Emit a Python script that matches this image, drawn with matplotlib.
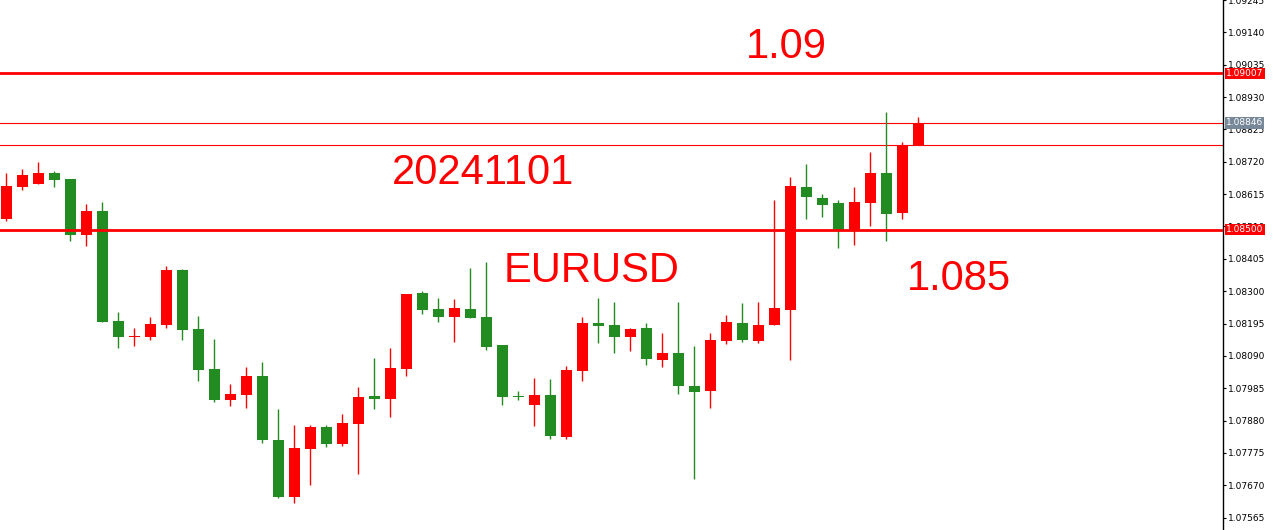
import numpy as np
import matplotlib
matplotlib.use("Agg")
import matplotlib.pyplot as plt
import matplotlib.transforms as mtransforms

# EURUSD candles (oldest -> newest)
opens = [1.08534, 1.08638, 1.08647, 1.08682, 1.08663, 1.08482, 1.08559, 1.08202,
         1.08153, 1.08152, 1.08190, 1.08368, 1.08176, 1.08047, 1.07947, 1.07964,
         1.08024, 1.07817, 1.07633, 1.07789, 1.07859, 1.07805, 1.07870, 1.07959,
         1.07951, 1.08048, 1.08293, 1.08241, 1.08216, 1.08241, 1.08215, 1.08125,
         1.07959, 1.07931, 1.07963, 1.07827, 1.08041, 1.08196, 1.08189, 1.08152,
         1.08180, 1.08077, 1.08099, 1.07992, 1.07977, 1.08139, 1.08196, 1.08139,
         1.08190, 1.08239, 1.08637, 1.08604, 1.08585, 1.08498, 1.08586, 1.08682,
         1.08553, 1.08774]
highs = [1.08682, 1.08695, 1.08718, 1.08689, 1.08663, 1.08582, 1.08591, 1.08232,
         1.08180, 1.08215, 1.08381, 1.08371, 1.08219, 1.08144, 1.07998, 1.08053,
         1.08070, 1.07917, 1.07865, 1.07865, 1.07865, 1.07901, 1.07989, 1.08083,
         1.08115, 1.08290, 1.08300, 1.08277, 1.08274, 1.08374, 1.08394, 1.08125,
         1.07976, 1.08018, 1.08014, 1.08057, 1.08215, 1.08277, 1.08264, 1.08180,
         1.08196, 1.08164, 1.08264, 1.08121, 1.08164, 1.08222, 1.08261, 1.08265,
         1.08595, 1.08669, 1.08714, 1.08617, 1.08595, 1.08637, 1.08753, 1.08880,
         1.08783, 1.08865]
lows = [1.08527, 1.08628, 1.08647, 1.08638, 1.08463, 1.08446, 1.08200, 1.08115,
        1.08122, 1.08142, 1.08181, 1.08142, 1.08009, 1.07941, 1.07928, 1.07921,
        1.07808, 1.07630, 1.07614, 1.07672, 1.07795, 1.07798, 1.07708, 1.07918,
        1.07892, 1.08025, 1.08226, 1.08200, 1.08135, 1.08213, 1.08109, 1.07931,
        1.07947, 1.07863, 1.07821, 1.07821, 1.08009, 1.08132, 1.08100, 1.08106,
        1.08061, 1.08054, 1.07967, 1.07689, 1.07921, 1.08129, 1.08135, 1.08132,
        1.08190, 1.08077, 1.08534, 1.08540, 1.08440, 1.08450, 1.08511, 1.08463,
        1.08534, 1.08774]
closes = [1.08640, 1.08676, 1.08682, 1.08660, 1.08482, 1.08559, 1.08200, 1.08152,
          1.08154, 1.08193, 1.08368, 1.08174, 1.08045, 1.07947, 1.07966, 1.08024,
          1.07818, 1.07633, 1.07791, 1.07859, 1.07805, 1.07872, 1.07956, 1.07951,
          1.08050, 1.08290, 1.08239, 1.08216, 1.08245, 1.08213, 1.08119, 1.07957,
          1.07957, 1.07963, 1.07831, 1.08044, 1.08196, 1.08187, 1.08152, 1.08176,
          1.08080, 1.08099, 1.07993, 1.07973, 1.08141, 1.08199, 1.08142, 1.08189,
          1.08245, 1.08640, 1.08605, 1.08579, 1.08495, 1.08591, 1.08682, 1.08550,
          1.08771, 1.08846]

# price axis on the right
tick_prices = [1.07565, 1.07670, 1.07775, 1.07880, 1.07985, 1.08090, 1.08195,
               1.08300, 1.08405, 1.08510, 1.08615, 1.08720, 1.08825, 1.08930,
               1.09035, 1.09140, 1.09245]

# horizontal levels
key_levels = [1.09007, 1.08500]
bid_price = 1.08846
prev_close = 1.08774

UP = '#FF0000'
DOWN = '#228B22'

fig = plt.figure(figsize=(12.73, 5.30), dpi=100)
ax = fig.add_axes([0, 0, 1223 / 1273, 1])

x = np.arange(len(opens))
o = np.array(opens)
h = np.array(highs)
l = np.array(lows)
c = np.array(closes)
colors = [UP if c[i] >= o[i] else DOWN for i in range(len(o))]

# wicks
ax.vlines(x, l, h, colors=colors, linewidth=1.0, zorder=2)
# bodies (keep dojis visible as a thin line)
body_h = np.maximum(np.abs(c - o), 0.00003)
ax.bar(x, body_h, bottom=np.minimum(o, c), width=0.69, color=colors,
       linewidth=0, zorder=3)

# levels
for lvl in key_levels:
    ax.axhline(lvl, color='#FF0000', linewidth=2.0, zorder=4)
ax.axhline(bid_price, color='#FF0000', linewidth=0.8, zorder=1)
ax.axhline(prev_close, color='#FF0000', linewidth=0.8, zorder=1)

ax.set_xlim(-0.394, 76.04)
ax.set_ylim(1.075251, 1.092427)

for s in ['left', 'top', 'bottom']:
    ax.spines[s].set_visible(False)
ax.spines['right'].set_color('black')
ax.spines['right'].set_linewidth(1.0)
ax.set_xticks([])
ax.yaxis.tick_right()
ax.set_yticks(tick_prices)
ax.set_yticklabels(['%.5f' % p for p in tick_prices])
ax.tick_params(axis='y', direction='out', length=2.5, width=0.8, pad=0.8,
               labelsize=6.5, colors='black')

# price tags on the axis
trans = mtransforms.blended_transform_factory(ax.transAxes, ax.transData)
tags = [(key_levels[0], '#FF0000'), (bid_price, '#778899'), (key_levels[1], '#FF0000')]
for price, col in tags:
    ax.text(1.0025, price, '%.5f' % price, transform=trans, ha='left',
            va='center', fontsize=6.5, color='white', clip_on=False, zorder=10,
            bbox=dict(boxstyle='square,pad=0.12', fc=col, ec='none'))

# chart notes
font = dict(family='Liberation Sans', size=30, color='#FF0000')
ax.text(46.23, 1.090557, '1.09', ha='left', va='baseline', **font)
ax.text(24.09, 1.086464, '20241101', ha='left', va='baseline', **font)
ax.text(31.10, 1.083298, 'EURUSD', ha='left', va='baseline', **font)
ax.text(56.28, 1.083029, '1.085', ha='left', va='baseline', **font)

fig.savefig('out.png', dpi=100, facecolor='white')
